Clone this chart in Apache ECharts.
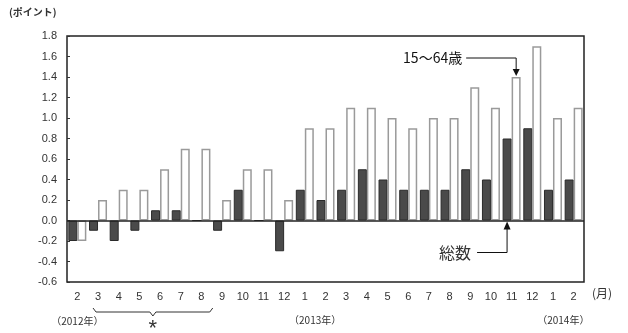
<!DOCTYPE html>
<html>
<head>
<meta charset="utf-8">
<script src="https://cdn.jsdelivr.net/npm/echarts@6/dist/echarts.min.js"></script>
<style>
html,body{margin:0;padding:0;background:#fff;}
#chart{width:628px;height:333px;}
</style>
</head>
<body>
<div id="chart"></div>
<script>
// Months from 2012/2 through 2014/2
var months = ['2','3','4','5','6','7','8','9','10','11','12','1','2','3','4','5','6','7','8','9','10','11','12','1','2'];
// 総数 (all ages)
var totalValues = [-0.2,-0.1,-0.2,-0.1,0.1,0.1,0.0,-0.1,0.3,0.0,-0.3,0.3,0.2,0.3,0.5,0.4,0.3,0.3,0.3,0.5,0.4,0.8,0.9,0.3,0.4];
// 15～64歳
var workingAgeValues = [-0.2,0.2,0.3,0.3,0.5,0.7,0.7,0.2,0.5,0.5,0.2,0.9,0.9,1.1,1.1,1.0,0.9,1.0,1.0,1.3,1.1,1.4,1.7,1.0,1.1];
var yTicks = [-0.6,-0.4,-0.2,0.0,0.2,0.4,0.6,0.8,1.0,1.2,1.4,1.6,1.8];

var LATIN = '"Liberation Sans", Arial, sans-serif';
var CJK = '"Noto Sans CJK JP", sans-serif';

var chart = echarts.init(document.getElementById('chart'), null, {renderer: 'canvas'});

chart.setOption({
  animation: false,
  backgroundColor: '#fff',
  grid: {left: 67, right: 44, top: 36, bottom: 51, show: true, borderColor: '#222', borderWidth: 1.5, backgroundColor: 'transparent'},
  xAxis: {
    type: 'category',
    data: months,
    boundaryGap: true,
    axisLine: {show: false, onZero: false},
    axisTick: {show: false},
    axisLabel: {color: '#333', fontFamily: LATIN, fontSize: 11, margin: 9, interval: 0}
  },
  yAxis: {
    type: 'value',
    min: yTicks[0],
    max: yTicks[yTicks.length - 1],
    interval: 0.2,
    splitLine: {show: false},
    axisLine: {show: false},
    axisTick: {show: true, inside: true, length: 3, lineStyle: {color: '#333'}},
    axisLabel: {color: '#333', fontFamily: LATIN, fontSize: 11, margin: 10,
      formatter: function (v) { return v.toFixed(1); }}
  },
  series: [
    {
      name: '総数',
      type: 'bar',
      data: totalValues,
      barWidth: 9,
      barGap: '0%',
      itemStyle: {color: '#4a4a4a', borderColor: '#2a2a2a', borderWidth: 1},
      markLine: {
        silent: true,
        symbol: 'none',
        label: {show: false},
        lineStyle: {color: '#222', width: 1.5, type: 'solid'},
        data: [{yAxis: 0}]
      }
    },
    {
      name: '15～64歳',
      type: 'bar',
      data: workingAgeValues,
      barWidth: 9,
      itemStyle: {color: '#fff', borderColor: '#9a9a9a', borderWidth: 1.5}
    }
  ]
});

// Annotations: year labels, brace, series callouts
function px(idx, val) { return chart.convertToPixel({gridIndex: 0}, [idx, val]); }
var stepX = px(1, 0)[0] - px(0, 0)[0];
var baseY = px(0, yTicks[0])[1];
var topY = px(0, yTicks[yTicks.length - 1])[1];
var zeroY = px(0, 0)[1];
var rightX = px(months.length - 1, 0)[0] + stepX / 2;

var braceL = px(1, 0)[0] - 5;
var braceR = px(7, 0)[0] - stepX / 2 + 1;
var braceM = (braceL + braceR) / 2;
var braceTop = baseY + 26, braceBot = baseY + 30;

var callTop = px(21, workingAgeValues[21])[1];
var callTopX = px(21, 0)[0] + stepX * 0.22;
var callBotX = px(21, 0)[0] - stepX * 0.22;

var graphics = [
  {type: 'text', left: 9, top: 7, style: {text: '(ポイント)', font: 'bold 10px ' + CJK, fill: '#333'}},
  {type: 'text', x: rightX + 8, y: baseY + 5, style: {text: '(月)', font: '12px ' + CJK, fill: '#333'}},
  {type: 'text', x: px(0, 0)[0], y: baseY + 34, style: {text: '（2012年）', font: '10px ' + CJK, fill: '#333', align: 'center'}},
  {type: 'text', x: (px(11, 0)[0] + px(12, 0)[0]) / 2, y: baseY + 33, style: {text: '（2013年）', font: '10px ' + CJK, fill: '#333', align: 'center'}},
  {type: 'text', x: (px(23, 0)[0] + px(24, 0)[0]) / 2, y: baseY + 33, style: {text: '（2014年）', font: '10px ' + CJK, fill: '#333', align: 'center'}},
  {type: 'polyline', shape: {points: [[braceL, braceTop], [braceL + 3, braceBot], [braceM - 3, braceBot], [braceM, braceBot + 4], [braceM + 3, braceBot], [braceR - 3, braceBot], [braceR, braceTop]]},
    style: {stroke: '#333', lineWidth: 1, fill: null}},
  {type: 'text', x: braceM, y: braceBot + 6, style: {text: '*', font: '22px ' + LATIN, fill: '#333', align: 'center'}},
  // 15～64歳 callout
  {type: 'text', x: callTopX - 54, y: topY + 22, style: {text: '15～64歳', font: '14px ' + CJK, fill: '#111', align: 'right', verticalAlign: 'middle'}},
  {type: 'polyline', shape: {points: [[callTopX - 50, topY + 22], [callTopX, topY + 22], [callTopX, callTop - 5]]}, style: {stroke: '#111', lineWidth: 1, fill: null}},
  {type: 'polygon', shape: {points: [[callTopX - 3.5, callTop - 8], [callTopX + 3.5, callTop - 8], [callTopX, callTop - 1]]}, style: {fill: '#111'}},
  // 総数 callout
  {type: 'text', x: callBotX - 36, y: zeroY + 32, style: {text: '総数', font: '16px ' + CJK, fill: '#333', align: 'right', verticalAlign: 'middle'}},
  {type: 'polyline', shape: {points: [[callBotX - 30, zeroY + 32], [callBotX, zeroY + 32], [callBotX, zeroY + 6]]}, style: {stroke: '#111', lineWidth: 1, fill: null}},
  {type: 'polygon', shape: {points: [[callBotX - 3.5, zeroY + 9], [callBotX + 3.5, zeroY + 9], [callBotX, zeroY + 1]]}, style: {fill: '#111'}}
];
chart.setOption({graphic: graphics});
</script>
</body>
</html>
